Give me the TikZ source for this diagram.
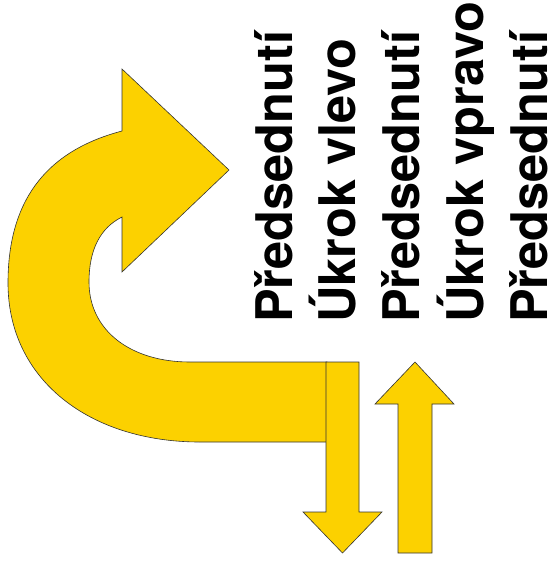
\documentclass[tikz,border=0pt]{standalone}
\usepackage{fontspec}
\setmainfont{TeX Gyre Heros}
\definecolor{arrowyellow}{RGB}{252,209,0}
\tikzset{
  arrowshape/.style={fill=arrowyellow, draw=black!80, line width=0.6pt, line join=miter},
  lbl/.style={rotate=90, anchor=base west, inner sep=0pt, font=\fontsize{50.5}{50.5}\selectfont\bfseries}
}
\begin{document}
\begin{tikzpicture}[x=1pt,y=-1pt]
\useasboundingbox (0,0) rectangle (551,566);
% big curved arrow
\draw[arrowshape] (122,131) -- (122,69) -- (229,170) -- (122,272) -- (122,217)
  .. controls (100,228) and (89,250) .. (89,282)
  .. controls (89,330) and (130,362) .. (190,362)
  -- (327,362) -- (327,442) -- (200,442)
  .. controls (90,442) and (8,380) .. (8,283)
  .. controls (8,205) and (42,152) .. (122,131) -- cycle;
% down arrow
\draw[arrowshape] (326,362) -- (359,362) -- (359,512) -- (382,512) -- (342.5,553)
  -- (303,512) -- (326,512) -- cycle;
% up arrow
\draw[arrowshape] (398,553) -- (432,553) -- (432,404) -- (454,404) -- (415,362)
  -- (375,404) -- (398,404) -- cycle;
% labels
\node[lbl] (t1) at (292,323) {Předsednutí};
\node[lbl] (t2) at (355,323) {Úkrok vlevo};
\node[lbl] (t3) at (419,323) {Předsednutí};
\node[lbl] (t4) at (483,323) {Úkrok vpravo};
\node[lbl] (t5) at (547,323) {Předsednutí};
\end{tikzpicture}
\end{document}
